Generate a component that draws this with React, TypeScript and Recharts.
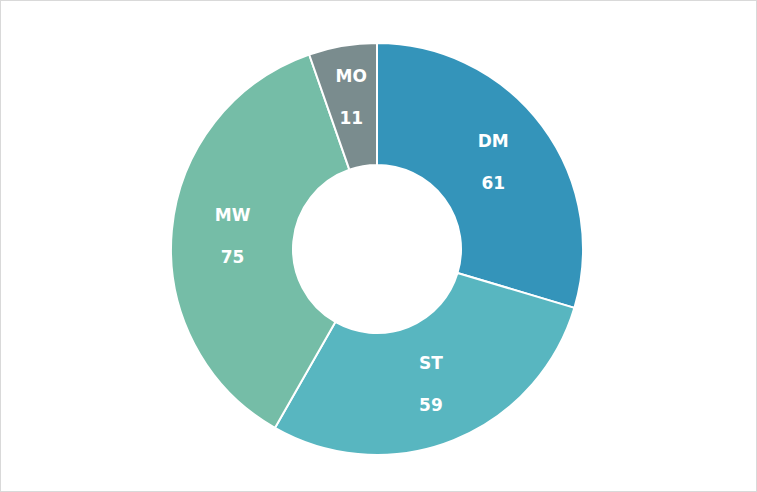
import { PieChart, Pie, Cell } from 'recharts';

const categories = ['DM', 'ST', 'MW', 'MO'];
const values = [61, 59, 75, 11];
const colors = ['#3494BA', '#58B6C0', '#75BDA7', '#7A8C8E'];

const data = categories.map((name, i) => ({ name, value: values[i] }));

const RAD = Math.PI / 180;

function renderLabel(props: any) {
  const { cx, cy, midAngle, innerRadius, outerRadius, name, value, percent } = props;
  // narrow slices get their labels pushed a bit outward, like the original
  const r = (innerRadius + outerRadius) / 2 + (percent < 0.1 ? 9 : 0);
  const x = cx + r * Math.cos(-midAngle * RAD);
  const y = cy + r * Math.sin(-midAngle * RAD);
  return (
    <g>
      <text x={x} y={y - 21} fill="#fff" fontSize={17} fontWeight="bold" textAnchor="middle" dominantBaseline="central"
        fontFamily="'DejaVu Sans', Verdana, sans-serif">
        {name}
      </text>
      <text x={x} y={y + 21} fill="#fff" fontSize={17} fontWeight="bold" textAnchor="middle" dominantBaseline="central"
        fontFamily="'DejaVu Sans', Verdana, sans-serif">
        {value}
      </text>
    </g>
  );
}

export default function App() {
  return (
    <div
      style={{
        position: 'fixed',
        top: 0,
        left: 0,
        width: 757,
        height: 492,
        border: '1px solid #d9d9d9',
        boxSizing: 'border-box',
        background: '#fff',
      }}
    >
      <PieChart width={755} height={490} margin={{ top: 0, right: 0, bottom: 0, left: 0 }}>
        <Pie
          data={data}
          dataKey="value"
          nameKey="name"
          cx={376}
          cy={248}
          innerRadius={84}
          outerRadius={206}
          startAngle={90}
          endAngle={-270}
          stroke="#fff"
          strokeWidth={2}
          label={renderLabel}
          labelLine={false}
          isAnimationActive={false}
        >
          {data.map((d, i) => (
            <Cell key={d.name} fill={colors[i]} />
          ))}
        </Pie>
      </PieChart>
    </div>
  );
}
